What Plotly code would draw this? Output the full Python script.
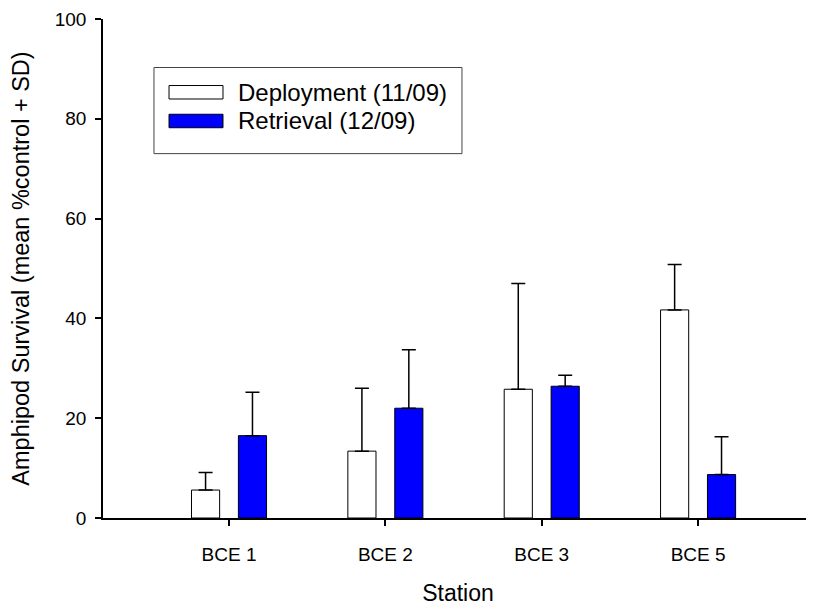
import plotly.graph_objects as go

# station data (mean % of control, + SD)
stations = ["BCE 1", "BCE 2", "BCE 3", "BCE 5"]
deploy_mean = [5.6, 13.4, 25.8, 41.7]
deploy_sd = [3.5, 12.6, 21.2, 9.1]
retrieval_mean = [16.5, 22.0, 26.4, 8.7]
retrieval_sd = [8.7, 11.7, 2.2, 7.6]
y_ticks = [0, 20, 40, 60, 80, 100]

font_family = "Arial, Liberation Sans, sans-serif"

fig = go.Figure()

fig.add_trace(go.Bar(
    x=stations, y=deploy_mean, name="Deployment (11/09)",
    marker=dict(color="white", line=dict(color="black", width=1)),
    error_y=dict(type="data", symmetric=False, array=deploy_sd,
                 arrayminus=[0] * len(deploy_sd), color="black",
                 thickness=1.5, width=7),
))
fig.add_trace(go.Bar(
    x=stations, y=retrieval_mean, name="Retrieval (12/09)",
    marker=dict(color="#0000ff", line=dict(color="black", width=1)),
    error_y=dict(type="data", symmetric=False, array=retrieval_sd,
                 arrayminus=[0] * len(retrieval_sd), color="black",
                 thickness=1.5, width=7),
))

# hand drawn legend box, to match the original's wide swatches
fig.add_shape(type="rect", xref="paper", yref="paper",
              x0=0.0718, x1=0.5056, y0=0.7302, y1=0.9028,
              line=dict(color="#444", width=1), fillcolor="white", layer="above")
legend_items = [("Deployment (11/09)", "white", 0.8532),
                ("Retrieval (12/09)", "#0000ff", 0.7956)]
for label, colour, yc in legend_items:
    fig.add_shape(type="rect", xref="paper", yref="paper",
                  x0=0.0930, x1=0.1690, y0=yc - 0.0135, y1=yc + 0.0135,
                  line=dict(color="black", width=1), fillcolor=colour, layer="above")
    fig.add_annotation(text=label, xref="paper", yref="paper",
                       x=0.1880, y=yc, xanchor="left", yanchor="middle",
                       showarrow=False, font=dict(size=24, color="black", family=font_family))

# page body has an 8px margin, so the figure is 8px smaller than the window
fig.update_layout(
    width=806, height=598,
    margin=dict(l=95, r=1, t=8, b=86),
    plot_bgcolor="white", paper_bgcolor="white",
    barmode="group", bargap=0.4, bargroupgap=0.4,
    showlegend=False,
    font=dict(family=font_family, color="black"),
)
fig.update_xaxes(
    type="category", range=[-0.806, 3.735],
    showline=True, linecolor="black", linewidth=1.5,
    ticks="outside", ticklen=6, tickwidth=1.5, tickcolor="black",
    tickfont=dict(size=19), showgrid=False, zeroline=False,
    ticklabelstandoff=12,
    title=dict(text="Station", font=dict(size=23), standoff=24),
)
fig.update_yaxes(
    range=[0, 100], tickvals=y_ticks,
    showline=True, linecolor="black", linewidth=1.5,
    ticks="outside", ticklen=6, tickwidth=1.5, tickcolor="black",
    tickfont=dict(size=19), showgrid=False, zeroline=False,
    ticklabelstandoff=5, ticklabeloverflow="allow",
    title=dict(text="Amphipod Survival (mean %control + SD)", font=dict(size=23.5), standoff=21),
)

fig.write_html("out.html")
